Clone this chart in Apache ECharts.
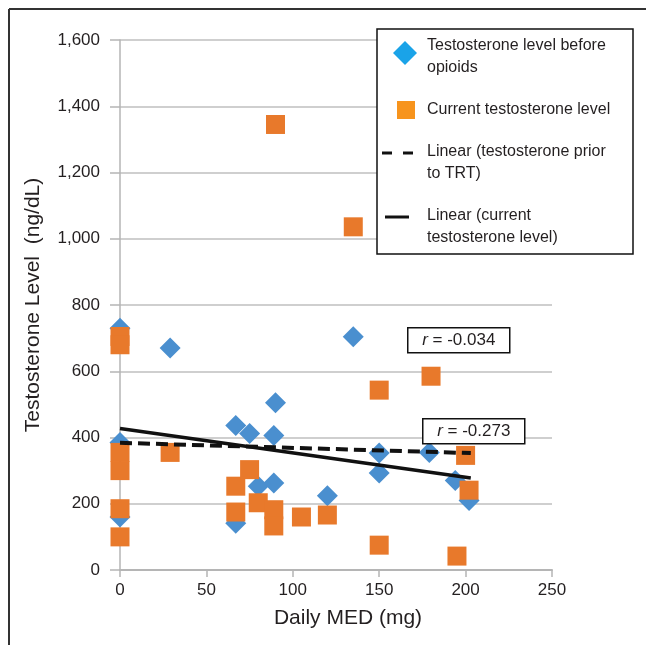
<!DOCTYPE html>
<html>
<head>
<meta charset="utf-8">
<title>Testosterone vs Daily MED</title>
<script src="https://cdn.jsdelivr.net/npm/echarts@6/dist/echarts.min.js"></script>
<style>
  html, body { margin: 0; padding: 0; background: #fff; }
  #chart { width: 646px; height: 645px; }
</style>
</head>
<body>
<div id="chart"></div>
<script>
// points: [daily MED (mg), testosterone (ng/dL)]
var beforeOpioids = [
  [0, 730], [0, 385], [0, 160], [29, 670], [67, 436], [75, 412],
  [90, 505], [89, 406], [80, 253], [89, 263], [67, 141], [120, 224],
  [135, 704], [150, 353], [150, 293], [179, 355], [194, 270], [202, 210]
];
var currentLevel = [
  [0, 705], [0, 680], [0, 355], [0, 300], [0, 185], [0, 100],
  [29, 355], [67, 253], [75, 303], [67, 175], [80, 203], [89, 182],
  [89, 133], [105, 160], [120, 166], [90, 1345], [135, 1036], [150, 543],
  [180, 585], [150, 75], [195, 42], [200, 346], [202, 241]
];
// linear fits (end points)
var trendPrior = [[0, 384], [203, 353]];
var trendCurrent = [[0, 427], [203, 278]];
var rLabels = ["-0.034", "-0.273"];

var FONT = "Liberation Sans, Arial, sans-serif";
var TXT = "#231f20";

var chart = echarts.init(document.getElementById("chart"));

function rBox(x, y, val) {
  return {
    type: "group",
    left: x,
    top: y,
    z: 50,
    children: [
      {
        type: "rect",
        z: 50,
        shape: { x: 0, y: 0, width: 102, height: 25 },
        style: { fill: "#fff", stroke: "#111", lineWidth: 1.5 }
      },
      {
        type: "text",
        z: 51,
        x: 51,
        y: 13,
        style: {
          text: "{i|r} = " + val,
          align: "center",
          verticalAlign: "middle",
          font: "17px " + FONT,
          fill: TXT,
          rich: { i: { fontStyle: "italic", fontSize: 17, fontFamily: FONT } }
        }
      }
    ]
  };
}

// first line centred on y
function legendText(x, y, str) {
  return {
    type: "text",
    z: 101,
    x: x,
    y: y - 11,
    style: {
      text: str,
      font: "16px " + FONT,
      fill: TXT,
      verticalAlign: "top",
      lineHeight: 22
    }
  };
}

chart.setOption({
  animation: false,
  grid: { left: 120, right: 94, top: 40, bottom: 75 },
  xAxis: {
    type: "value",
    min: 0,
    max: 250,
    interval: 50,
    name: "Daily MED (mg)",
    nameLocation: "middle",
    nameGap: 38,
    nameTextStyle: { fontSize: 21, fontFamily: FONT, color: TXT, padding: [0, 0, 0, 24] },
    axisLine: { show: true, lineStyle: { color: "#b5b5b5", width: 2 } },
    axisTick: { show: true, length: 7, lineStyle: { color: "#b5b5b5", width: 1.5 } },
    axisLabel: { fontSize: 17, fontFamily: FONT, color: TXT, margin: 12 },
    splitLine: { show: false }
  },
  yAxis: {
    type: "value",
    min: 0,
    max: 1600,
    interval: 200,
    name: "Testosterone Level  (ng/dL)",
    nameLocation: "middle",
    nameGap: 76,
    nameTextStyle: { fontSize: 21, fontFamily: FONT, color: TXT },
    axisLine: { show: true, lineStyle: { color: "#b5b5b5", width: 1.5 } },
    axisTick: { show: true, length: 10, lineStyle: { color: "#b5b5b5", width: 1.5 } },
    axisLabel: {
      fontSize: 17,
      fontFamily: FONT,
      color: TXT,
      margin: 20,
      formatter: function (v) { return String(v).replace(/\B(?=(\d{3})+(?!\d))/g, ","); }
    },
    splitLine: { show: true, lineStyle: { color: "#cfcfcf", width: 2 } }
  },
  series: [
    {
      name: "Testosterone level before opioids",
      type: "scatter",
      symbol: "diamond",
      symbolSize: [21, 21],
      itemStyle: { color: "#4a8fcf", opacity: 1 },
      data: beforeOpioids,
      z: 2
    },
    {
      name: "Current testosterone level",
      type: "scatter",
      symbol: "rect",
      symbolSize: 19,
      itemStyle: { color: "#e8792b", opacity: 1 },
      data: currentLevel,
      z: 3
    },
    {
      name: "Linear (testosterone prior to TRT)",
      type: "line",
      symbol: "none",
      lineStyle: { color: "#111", width: 4, type: [12, 6] },
      data: trendPrior,
      z: 4
    },
    {
      name: "Linear (current testosterone level)",
      type: "line",
      symbol: "none",
      lineStyle: { color: "#111", width: 3.5 },
      data: trendCurrent,
      z: 4
    }
  ],
  graphic: [
    // page frame (top and left edges only are visible)
    { type: "line", z: 100, shape: { x1: 9, y1: 9, x2: 646, y2: 9 }, style: { stroke: "#333", lineWidth: 2 } },
    { type: "line", z: 100, shape: { x1: 9, y1: 9, x2: 9, y2: 645 }, style: { stroke: "#333", lineWidth: 2 } },
    rBox(407, 327, rLabels[0]),
    rBox(422, 418, rLabels[1]),
    // legend
    {
      type: "rect",
      z: 100,
      shape: { x: 377, y: 29, width: 256, height: 225 },
      style: { fill: "#fff", stroke: "#111", lineWidth: 1.5 }
    },
    {
      type: "polygon",
      z: 101,
      shape: { points: [[405, 41], [417, 53], [405, 65], [393, 53]] },
      style: { fill: "#1aa3e8" }
    },
    legendText(427, 46, "Testosterone level before\nopioids"),
    {
      type: "rect",
      z: 101,
      shape: { x: 397, y: 101, width: 18, height: 18 },
      style: { fill: "#f7941d" }
    },
    legendText(427, 110, "Current testosterone level"),
    { type: "line", z: 101, shape: { x1: 382, y1: 153, x2: 392, y2: 153 }, style: { stroke: "#111", lineWidth: 3 } },
    { type: "line", z: 101, shape: { x1: 403, y1: 153, x2: 413, y2: 153 }, style: { stroke: "#111", lineWidth: 3 } },
    legendText(427, 152, "Linear (testosterone prior\nto TRT)"),
    { type: "line", z: 101, shape: { x1: 385, y1: 217, x2: 409, y2: 217 }, style: { stroke: "#111", lineWidth: 3 } },
    legendText(427, 216, "Linear (current\ntestosterone level)")
  ]
});
</script>
</body>
</html>
